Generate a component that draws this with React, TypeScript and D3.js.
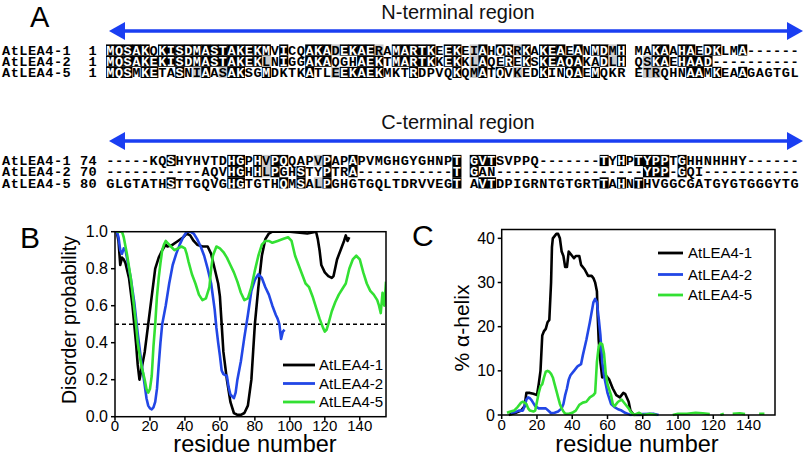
import React from "react";
import * as d3 from "d3";

// ---------- Panel A: alignment ----------
const names = ["AtLEA4-1", "AtLEA4-2", "AtLEA4-5"];
const nStarts = ["1", "1", "1"];
const nSeqs = [
  "MQSAKQKISDMASTAKEKMVICQAKADEKAERAMARTKEEKEIAHQRRKAKEAEANMDMH MAKAAHAEDKLMA------",
  "MQSAKEKISDMASTAKEKLNIGGAKAQGHAEKTMARTKKEKKLAQEREKSKEAQAKADLH QSKAEHAAD----------",
  "MQSMKETASNIAASAKSGMDKTKATLEEKAEKMKTRDPVQKQMATQVKEDKINQAEMQKR ETRQHNAAMKEAAGAGTGL",
];
const cStarts = ["74", "70", "80"];
const cSeqs = [
  "-----KQSHYHVTDHGPHVPQQAPVPAPAPVMGHGYGHNPT GVTSVPPQ-------TYHPTYPPTGHHNHHHY------",
  "-----------AQVHGHHLPGHSTYPTRA-----------T GAN-----------------YPP-GQI-----------",
  "GLGTATHSTTGQVGHGTGTHQMSALPGHGTGQLTDRVVEGT AVTDPIGRNTGTGRTTAHNTHVGGCGATGYGTGGGYTG",
];
const simGroups = ["ILVM", "FYW", "KR", "DE", "ST", "NQ"];
const regionTitles = ["N-terminal region", "C-terminal region"];

// ---------- Panels B and C ----------
const seriesNames = ["AtLEA4-1", "AtLEA4-2", "AtLEA4-5"];
const seriesColors = ["#000000", "#2247e6", "#33e033"];
const xTicks = [0, 20, 40, 60, 80, 100, 120, 140];
const yTicksB = [0, 0.2, 0.4, 0.6, 0.8, 1.0];
const yTicksC = [0, 10, 20, 30, 40];

const disorder1: [number, number][] = [
  [1, 1.0], [2, 0.95], [3, 0.82], [4, 0.86], [5, 0.85], [6, 0.83], [8, 0.75], [10, 0.6], [12, 0.4], [13, 0.28],
  [14, 0.2], [15, 0.25], [17, 0.35], [19, 0.5], [21, 0.65], [23, 0.8], [25, 0.86], [27, 0.9], [29, 0.93], [30, 0.92],
  [33, 0.93], [36, 0.95], [39, 0.97], [41, 0.99], [43, 0.98], [45, 0.95], [47, 0.93], [50, 0.92], [53, 0.92], [55, 0.88],
  [57, 0.8], [59, 0.72], [60, 0.65], [61, 0.5], [62, 0.35], [64, 0.2], [66, 0.08], [68, 0.02], [70, 0.01], [72, 0.01],
  [74, 0.02], [76, 0.06], [78, 0.2], [79, 0.35], [80, 0.5], [82, 0.7], [84, 0.87], [86, 0.96], [88, 0.99], [90, 1.0],
  [100, 1.0], [110, 0.99], [115, 1.0], [116, 0.96], [117, 0.9], [118, 0.82], [120, 0.78], [122, 0.76], [124, 0.75], [125, 0.76],
  [127, 0.85], [129, 0.9], [131, 0.95], [132, 0.98], [133, 0.95], [134, 0.97],
];
const disorder2: [number, number][] = [
  [1, 1.0], [2, 0.97], [3, 0.9], [4, 0.88], [5, 0.91], [6, 0.9], [7, 0.85], [9, 0.75], [11, 0.62], [13, 0.45],
  [15, 0.3], [17, 0.17], [18, 0.1], [19, 0.06], [20, 0.045], [21, 0.04], [22, 0.05], [23, 0.08], [24, 0.15], [25, 0.28],
  [26, 0.4], [27, 0.5], [29, 0.6], [31, 0.72], [33, 0.82], [35, 0.88], [37, 0.93], [39, 0.97], [41, 1.0], [43, 1.0],
  [45, 0.99], [47, 0.96], [49, 0.92], [51, 0.87], [53, 0.8], [55, 0.72], [57, 0.58], [58, 0.48], [59, 0.4], [60, 0.33],
  [61, 0.25], [62, 0.23], [64, 0.22], [65, 0.16], [66, 0.12], [67, 0.11], [68, 0.1], [69, 0.13], [70, 0.2], [72, 0.3],
  [74, 0.43], [76, 0.55], [78, 0.68], [80, 0.74], [82, 0.77], [84, 0.75], [86, 0.7], [88, 0.66], [90, 0.6], [92, 0.55],
  [93, 0.53], [94, 0.5], [95, 0.42], [96, 0.46], [97, 0.47],
];
const disorder5: [number, number][] = [
  [1, 1.0], [2, 1.0], [4, 1.0], [5, 0.97], [7, 0.87], [9, 0.75], [10, 0.67], [12, 0.5], [13, 0.4], [15, 0.28],
  [17, 0.2], [18, 0.15], [19, 0.13], [20, 0.15], [21, 0.22], [22, 0.38], [23, 0.5], [24, 0.65], [25, 0.75], [26, 0.83],
  [27, 0.9], [28, 0.93], [29, 0.95], [30, 0.94], [32, 0.92], [34, 0.9], [36, 0.91], [38, 0.92], [40, 0.91], [41, 0.88],
  [42, 0.84], [44, 0.77], [46, 0.72], [48, 0.66], [50, 0.63], [52, 0.64], [54, 0.7], [55, 0.8], [56, 0.87], [58, 0.92],
  [60, 0.91], [62, 0.89], [64, 0.86], [66, 0.82], [68, 0.78], [70, 0.73], [72, 0.67], [74, 0.63], [76, 0.64], [78, 0.7],
  [80, 0.79], [82, 0.87], [84, 0.93], [86, 0.95], [88, 0.95], [90, 0.94], [93, 0.95], [96, 0.96], [99, 0.97], [101, 0.95],
  [103, 0.87], [105, 0.82], [107, 0.77], [109, 0.72], [111, 0.7], [113, 0.65], [115, 0.59], [117, 0.53], [119, 0.48], [120, 0.46],
  [121, 0.47], [122, 0.5], [124, 0.57], [126, 0.62], [128, 0.66], [130, 0.69], [132, 0.72], [134, 0.8], [136, 0.85], [138, 0.87],
  [140, 0.85], [142, 0.78], [144, 0.72], [146, 0.68], [148, 0.66], [150, 0.63], [151, 0.6], [152, 0.56], [153, 0.67], [154, 0.6],
  [155, 0.73],
];

const helix1: [number, number | null][] = [
  [4, 0], [8, 0.5], [11, 1], [13, 2], [14, 5], [16, 5], [18, 4.8], [20, 4.5], [21, 7], [22, 10],
  [23, 18], [24, 19], [25, 19.5], [26, 21], [27, 21.5], [28, 30], [28.5, 38], [29, 40], [31, 41], [32, 41],
  [33, 40], [34, 37], [35, 36], [36, 33.5], [37, 33.5], [38, 37], [40, 36], [41, 35.5], [42, 36], [44, 36],
  [45, 34], [47, 33], [49, 31.5], [51, 31.5], [52, 31], [53, 30], [54, 28], [54.5, 22], [55, 17], [56, 12],
  [57, 8.5], [59, 9], [61, 8], [63, 6], [65, 4.5], [67, 4], [69, 5], [70, 4.8], [72, 3], [73, 1],
  [75, 0], [80, 0],
];
const helix2: [number, number | null][] = [
  [5, 0.5], [8, 0.7], [10, 1], [12, 1], [13, 2], [14, 3.5], [15, 4], [16, 3.8], [17, 3.3], [19, 2],
  [21, 1.5], [23, 1.5], [25, 1.5], [27, 0.8], [28, 0.4], [30, 0.5], [32, 0.8], [34, 1.5], [35, 2.5], [36, 4.5],
  [37, 6], [38, 8], [39, 9], [41, 10], [43, 11], [45, 11.5], [46, 13.5], [48, 17], [50, 21], [52, 25.5],
  [53, 26.3], [54, 25.5], [55, 22], [56, 18], [57, 12], [58, 9], [59, 7], [60, 5], [62, 2.5], [64, 1.8],
  [66, 1.3], [68, 1], [70, 0.5], [72, 0.2], [73, 0], [80, 0.2], [86, 0.3], [89, 0],
];
const helix5: [number, number | null][] = [
  [3, 0.5], [5, 0.8], [7, 1], [9, 1.8], [11, 2.8], [12, 3], [13, 2.8], [14, 2.5], [15, 1.5], [16, 1],
  [18, 0.8], [19, 1], [20, 3], [21, 5], [22, 6.5], [23, 7], [24, 8.5], [25, 9.8], [26, 10], [27, 9.8],
  [28, 9.3], [29, 8.5], [30, 7], [31, 5.5], [32, 4], [33, 2.5], [34, 1.5], [35, 0.8], [36, 0.3], [38, 0.3],
  [40, 0.5], [42, 1], [44, 2.3], [46, 2.8], [48, 3], [50, 4], [52, 4.5], [53, 5], [54, 12], [55, 15.5],
  [56, 16.3], [57, 16], [58, 14], [59, 9.5], [60, 7], [62, 4.5], [63, 2.5], [64, 2], [66, 3], [68, 3.5],
  [70, 2.5], [72, 1.5], [73, 0.8], [75, 0], [78, 0.5], [80, 0], [84, 0.3], [88, 0], [92, null], [97, 0],
  [100, 0.3], [105, 0.3], [110, 0.5], [114, 0.4], [118, 0.2], [121, null], [124, 0], [126, 0.3], [128, null], [131, 0.3],
  [135, 0.4], [138, 0.2], [141, null], [146, 0.3], [149, 0.3],
];

const SANS = "'Liberation Sans', Arial, Helvetica, sans-serif";
const MONO = "'Liberation Mono', 'Courier New', monospace";
const MONO_SIZE = 13.6;

function shadeColumn(chars: string[]): string[] {
  const counts: Record<string, number> = {};
  chars.forEach((c) => {
    if (c !== "-" && c !== " ") counts[c] = (counts[c] || 0) + 1;
  });
  const cons = Object.keys(counts).find((k) => counts[k] >= 2);
  return chars.map((c, i) => {
    if (c === "-" || c === " ") return "none";
    if (cons && c === cons) return "black";
    const grp = simGroups.find((g) => g.includes(c));
    if (!grp) return "none";
    if (cons) return grp.includes(cons) ? "grey" : "none";
    const others = chars.filter((d, j) => j !== i && d !== "-" && d !== " " && grp.includes(d));
    return others.length > 0 ? "grey" : "none";
  });
}

function AlignmentBlock({ seqs, starts, rowYs, arrowY, title }: { seqs: string[]; starts: string[]; rowYs: number[]; arrowY: number; title: string }) {
  const cw = 8.66;
  const x0 = 106;
  const len = seqs[0].length;
  const shades: string[][] = seqs.map(() => []);
  for (let i = 0; i < len; i++) {
    const col = seqs.map((s) => s[i]);
    const sh = shadeColumn(col);
    sh.forEach((v, r) => (shades[r][i] = v));
  }
  const arrowL = 109;
  const arrowR = 803;
  return (
    <g>
      <text x={458} y={arrowY - 12} fontFamily={SANS} fontSize={20} textAnchor="middle" fill="#111">{title}</text>
      <line x1={arrowL + 14} x2={arrowR - 14} y1={arrowY} y2={arrowY} stroke="#1a3ef2" strokeWidth={3.5} />
      <path d={`M${arrowL},${arrowY} L${arrowL + 16},${arrowY - 9} L${arrowL + 16},${arrowY + 9} Z`} fill="#1a3ef2" />
      <path d={`M${arrowR},${arrowY} L${arrowR - 16},${arrowY - 9} L${arrowR - 16},${arrowY + 9} Z`} fill="#1a3ef2" />
      {seqs.map((s, r) => {
        const chars = s.split("");
        const label = names[r] + " ".repeat(11 - names[r].length - starts[r].length) + starts[r];
        return (
          <g key={r}>
            {chars.map((ch, i) => {
              const sh = shades[r][i];
              if (sh === "none") return null;
              return (
                <rect key={i} x={x0 + i * cw} y={rowYs[r] - 5.6} width={cw + 0.4} height={11.2} fill={sh === "black" ? "#000" : "#c9c9c9"} />
              );
            })}
            <text y={rowYs[r] + 4.6} fontFamily={MONO} fontWeight="bold" fontSize={MONO_SIZE} textAnchor="middle">
              {label.split("").map((ch, k) => (
                <tspan key={"l" + k} x={97 - (11 - k) * cw + cw / 2}>{ch === " " ? "\u00a0" : ch}</tspan>
              ))}
              {chars.map((ch, i) => (
                <tspan key={i} x={x0 + i * cw + cw / 2} fill={shades[r][i] === "black" ? "#fff" : "#000"}>{ch === " " ? "\u00a0" : ch}</tspan>
              ))}
            </text>
          </g>
        );
      })}
    </g>
  );
}

function PanelB() {
  const x = d3.scaleLinear().domain([0, 155]).range([115, 386]);
  const y = d3.scaleLinear().domain([0, 1]).range([416.7, 231.7]);
  const line = d3.line<[number, number]>().x((d) => x(d[0])).y((d) => y(d[1]));
  const data = [disorder1, disorder2, disorder5];
  const legY = [365, 383.5, 402];
  return (
    <g>
      <text x={20} y={248} fontFamily={SANS} fontSize={30}>B</text>
      <defs>
        <clipPath id="clipB"><rect x={115} y={231.7} width={271} height={185} /></clipPath>
      </defs>
      <line x1={115} x2={386} y1={y(0.5)} y2={y(0.5)} stroke="#000" strokeWidth={1.6} strokeDasharray="4,3" />
      <g clipPath="url(#clipB)">
        {data.map((d, i) => (
          <path key={i} d={line(d) || ""} fill="none" stroke={seriesColors[i]} strokeWidth={2.6} strokeLinejoin="round" />
        ))}
      </g>
      <rect x={115} y={231.7} width={271} height={185} fill="none" stroke="#000" strokeWidth={1.5} />
      {yTicksB.map((t) => (
        <g key={t}>
          <line x1={111} x2={115} y1={y(t)} y2={y(t)} stroke="#000" strokeWidth={1.5} />
          <text x={108} y={y(t) + 5.5} textAnchor="end" fontFamily={SANS} fontSize={16}>{t.toFixed(1)}</text>
        </g>
      ))}
      {xTicks.map((t) => (
        <g key={t}>
          <line x1={x(t)} x2={x(t)} y1={416.7} y2={420.7} stroke="#000" strokeWidth={1.5} />
          <text x={x(t)} y={430.5} textAnchor="middle" fontFamily={SANS} fontSize={15}>{t}</text>
        </g>
      ))}
      <text x={255} y={452} textAnchor="middle" fontFamily={SANS} fontSize={23.5}>residue number</text>
      <text transform="translate(76,320) rotate(-90)" textAnchor="middle" fontFamily={SANS} fontSize={19.5}>Disorder probability</text>
      {seriesNames.map((n, i) => (
        <g key={n}>
          <line x1={283} x2={315} y1={legY[i]} y2={legY[i]} stroke={seriesColors[i]} strokeWidth={2.8} />
          <text x={319} y={legY[i] + 5.3} fontFamily={SANS} fontSize={15}>{n}</text>
        </g>
      ))}
    </g>
  );
}

function PanelC() {
  const x = d3.scaleLinear().domain([0, 155]).range([501.7, 775]);
  const y = d3.scaleLinear().domain([0, 42]).range([415, 229.5]);
  const line = d3
    .line<[number, number | null]>()
    .defined((d) => d[1] !== null)
    .x((d) => x(d[0]))
    .y((d) => y(d[1] as number));
  const data = [helix1, helix2, helix5];
  const legY = [253, 274.5, 295];
  return (
    <g>
      <text x={412} y={246} fontFamily={SANS} fontSize={30}>C</text>
      <defs>
        <clipPath id="clipC"><rect x={501.7} y={229.5} width={273.3} height={187} /></clipPath>
      </defs>
      <g clipPath="url(#clipC)">
        {data.map((d, i) => (
          <path key={i} d={line(d) || ""} fill="none" stroke={seriesColors[i]} strokeWidth={2.6} strokeLinejoin="round" />
        ))}
      </g>
      <rect x={501.7} y={229.5} width={273.3} height={185.5} fill="none" stroke="#000" strokeWidth={1.5} />
      {yTicksC.map((t) => (
        <g key={t}>
          <line x1={497.7} x2={501.7} y1={y(t)} y2={y(t)} stroke="#000" strokeWidth={1.5} />
          <text x={495} y={y(t) + 5.5} textAnchor="end" fontFamily={SANS} fontSize={16}>{t}</text>
        </g>
      ))}
      {xTicks.map((t) => (
        <g key={t}>
          <line x1={x(t)} x2={x(t)} y1={415} y2={419} stroke="#000" strokeWidth={1.5} />
          <text x={x(t)} y={429.5} textAnchor="middle" fontFamily={SANS} fontSize={15}>{t}</text>
        </g>
      ))}
      <text x={637} y={452} textAnchor="middle" fontFamily={SANS} fontSize={23.5}>residue number</text>
      <text transform="translate(469,328) rotate(-90)" textAnchor="middle" fontFamily={SANS} fontSize={21}>% α-helix</text>
      {seriesNames.map((n, i) => (
        <g key={n}>
          <line x1={658} x2={683} y1={legY[i]} y2={legY[i]} stroke={seriesColors[i]} strokeWidth={2.8} />
          <text x={688} y={legY[i] + 5.3} fontFamily={SANS} fontSize={15}>{n}</text>
        </g>
      ))}
    </g>
  );
}

export default function App() {
  return (
    <svg width={805} height={461} style={{ position: "absolute", left: 0, top: 0, background: "#fff" }} xmlns="http://www.w3.org/2000/svg">
      <rect x={0} y={0} width={805} height={461} fill="#fff" />
      <text x={30} y={27} fontFamily={SANS} fontSize={29}>A</text>
      <AlignmentBlock seqs={nSeqs} starts={nStarts} rowYs={[50, 61.2, 72.4]} arrowY={31} title={regionTitles[0]} />
      <AlignmentBlock seqs={cSeqs} starts={cStarts} rowYs={[160.5, 171.7, 182.9]} arrowY={141} title={regionTitles[1]} />
      <PanelB />
      <PanelC />
    </svg>
  );
}
